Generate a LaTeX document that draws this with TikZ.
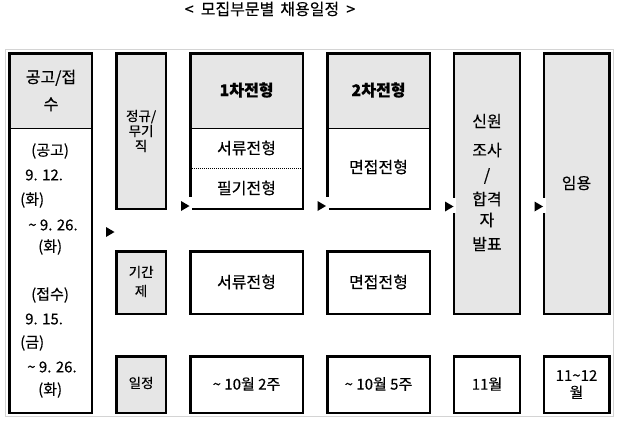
\documentclass[tikz,border=0pt]{standalone}
\usepackage{fontspec}
\setmainfont{Noto Sans CJK KR}[FakeBold=0.3]
\usetikzlibrary{fit}
\definecolor{hdr}{RGB}{230,230,230}
\definecolor{framegray}{RGB}{212,212,212}
\begin{document}
\begin{tikzpicture}[x=1pt,y=-1pt,
  box/.style={draw=black,line width=2.6pt,inner sep=0pt},
  divider/.style={draw=black,line width=1pt},
  dotdiv/.style={draw=black,line width=0.9pt,dash pattern=on 1pt off 1pt},
  lbl/.style={inner sep=0pt,font=\fontsize{16}{19}\selectfont},
  blbl/.style={inner sep=0pt,font=\fontsize{16}{19}\selectfont\bfseries},
  small/.style={inner sep=0pt,align=center,font=\fontsize{13.5}{15}\selectfont},
  dlbl/.style={inner sep=0pt,anchor=west,font=\fontsize{15}{17}\selectfont},
  dates/.style={inner sep=0pt,font=\fontsize{15}{17}\selectfont},
  tri/.style={fill=black},
  tribg/.style={fill=white}]
\useasboundingbox (0,0) rectangle (622,431);

% title
\node[lbl] (title) at (270,9) {<\hspace{7pt}모집부문별\hspace{6pt}채용일정\hspace{7pt}>};

% outer frame
\draw[framegray,line width=1.3pt] (5.3,49.3) rectangle (613.3,416.7);

% fills
\fill[hdr] (9.7,53.7) rectangle (92,128.3);
\fill[hdr] (190.3,53.7) rectangle (302.8,128.3);
\fill[hdr] (327.3,53.7) rectangle (429.8,128.3);
\fill[hdr] (116.2,53.7) rectangle (166,209);
\fill[hdr] (454,53.7) rectangle (519.8,313.8);
\fill[hdr] (543.8,53.7) rectangle (609.2,313.8);
\fill[hdr] (116.2,251.2) rectangle (166,313.8);
\fill[hdr] (116.2,356.2) rectangle (166,412.8);

% dividers
\coordinate (a1) at (9.7,128.3);  \coordinate (a2) at (92,128.3);
\coordinate (c1) at (190.3,128.3); \coordinate (c2) at (302.8,128.3);
\coordinate (d1) at (327.3,128.3); \coordinate (d2) at (429.8,128.3);
\coordinate (c3) at (190.3,168.3); \coordinate (c4) at (302.8,168.3);
\draw[divider] (a1) -- (a2);
\draw[divider] (c1) -- (c2);
\draw[divider] (d1) -- (d2);
\draw[dotdiv] (c3) -- (c4);

% boxes
\node[box,fit={(9.7,53.7) (92,413)}] (A) {};
\node[box,fit={(116.2,53.7) (166,209)}] (B1) {};
\node[box,fit={(190.3,53.7) (302.8,209)}] (C1) {};
\node[box,fit={(327.3,53.7) (429.8,209)}] (D1) {};
\node[box,fit={(454,53.7) (519.8,313.8)}] (E1) {};
\node[box,fit={(543.8,53.7) (609.2,313.8)}] (F1) {};
\node[box,fit={(116.2,251.2) (166,313.8)}] (B2) {};
\node[box,fit={(190.3,251.2) (302.8,313.8)}] (C2) {};
\node[box,fit={(327.3,251.2) (429.8,313.8)}] (D2) {};
\node[box,fit={(116.2,356.2) (166,412.8)}] (B3) {};
\node[box,fit={(190.3,356.2) (302.8,412.8)}] (C3) {};
\node[box,fit={(327.3,356.2) (429.8,412.8)}] (D3) {};
\node[box,fit={(454,356.2) (519.8,412.8)}] (E3) {};
\node[box,fit={(543.8,356.2) (609.2,412.8)}] (F3) {};

% triangles
\coordinate (t1) at (181,206);
\coordinate (t2) at (317.5,206);
\coordinate (t3) at (445,206.5);
\coordinate (t4) at (534.5,206.5);
\coordinate (t5) at (106,232);
\foreach \t in {t1,t2,t3,t4}{
  \fill[tribg] (\t) ++(0,-9) rectangle ++(11,15.5);
}
\foreach \t in {t1,t2,t3,t4,t5}{
  \fill[tri] (\t) ++(0,-5) -- ++(8.5,5) -- ++(-8.5,5) -- cycle;
}

% header texts
\node[lbl,align=center,font=\fontsize{16}{27}\selectfont] (Ah) at (51,90.5) {공고/접\\수};
\node[small] (Bt) at (141.1,131) {정규/\\무기\\직};
\node[blbl] (C1h) at (246.5,90) {1차전형};
\node[lbl] (C1a) at (246.5,148) {서류전형};
\node[lbl] (C1b) at (246.5,188) {필기전형};
\node[blbl] (D1h) at (378.5,90) {2차전형};
\node[lbl] (D1a) at (378.5,167) {면접전형};
\node[lbl] (E1a) at (487,121) {신원};
\node[lbl] (E1b) at (487,150) {조사};
\node[lbl] (E1c) at (487,176) {/};
\node[lbl] (E1d) at (487,199) {합격};
\node[lbl] (E1e) at (487,220) {자};
\node[lbl] (E1f) at (487,244) {발표};
\node[lbl] (F1a) at (576.5,183) {임용};

% row 2
\node[small,font=\fontsize{13.5}{19}\selectfont] (B2t) at (141.1,281.5) {기간\\제};
\node[lbl] (C2t) at (246.5,282) {서류전형};
\node[lbl] (D2t) at (378.5,282) {면접전형};

% row 3
\node[small] (B3t) at (141.1,383) {일정};
\node[dates] (C3t) at (246.5,384) {\textasciitilde{} 10월 2주};
\node[dates] (D3t) at (378.5,384) {\textasciitilde{} 10월 5주};
\node[dates] (E3t) at (487,384) {11월};
\node[dates,align=center] (F3t) at (576.5,384.5) {11\textasciitilde12\\월};

% left column body
\node[dlbl] (l1) at (31,151) {(공고)};
\node[dlbl] (l2) at (25,175) {9. 12.};
\node[dlbl] (l3) at (20,200) {(화)};
\node[dlbl] (l4) at (28,225) {\textasciitilde{} 9. 26.};
\node[dlbl] (l5) at (38,247) {(화)};
\node[dlbl] (l6) at (31,295) {(접수)};
\node[dlbl] (l7) at (25,319) {9. 15.};
\node[dlbl] (l8) at (20,343) {(금)};
\node[dlbl] (l9) at (27,367) {\textasciitilde{} 9. 26.};
\node[dlbl] (l10) at (38,390) {(화)};
\end{tikzpicture}
\end{document}
